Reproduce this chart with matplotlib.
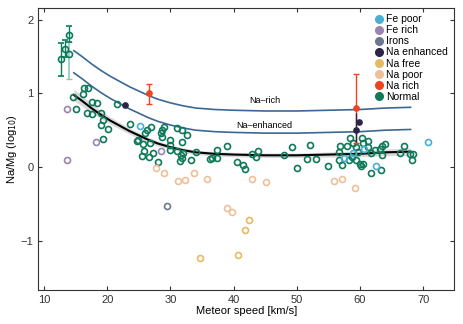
import numpy as np
import matplotlib
matplotlib.use('Agg')
from matplotlib import pyplot as plt

plt.rcParams['font.family'] = ['Liberation Sans', 'DejaVu Sans']

# --- data ---
normal_v = [14.6, 16.3, 16.9, 16.1, 15.0, 17.5, 18.3, 16.8, 17.5, 19.0, 19.3, 19.0, 20.1, 19.3,
            21.5, 23.6, 24.8, 26.3, 26.9, 25.9, 24.7, 25.6, 26.7, 25.8, 25.5, 26.6, 27.3, 28.0,
            28.5, 28.7, 28.6, 29.0, 29.9, 30.0, 31.1, 31.9, 32.6, 31.9, 31.0, 31.6, 32.0, 31.8,
            31.5, 29.9, 33.3, 34.1, 36.2, 37.3, 37.3, 36.5, 38.9, 40.6, 41.4, 41.8, 42.9, 43.9,
            43.5, 47.9, 49.2, 50.0, 51.6, 52.1, 53.0, 55.0, 56.6, 57.2, 58.4, 58.0, 58.9, 59.6,
            59.4, 60.3, 60.5, 61.2, 61.2, 61.7, 62.3, 63.1, 63.4, 63.4, 58.7, 59.3, 60.0, 60.5,
            61.7, 58.2, 56.6, 56.8, 64.0, 66.9, 66.3, 67.9, 68.4, 68.2, 63.3, 60.1]
normal_y = [0.95, 1.08, 1.08, 0.99, 0.79, 0.89, 0.87, 0.73, 0.72, 0.74, 0.64, 0.57, 0.52, 0.38,
            0.86, 0.59, 0.37, 0.50, 0.55, 0.46, 0.35, 0.31, 0.33, 0.22, 0.15, 0.14, 0.19, 0.07,
            0.46, 0.50, 0.41, 0.55, 0.37, 0.30, 0.53, 0.50, 0.44, 0.34, 0.22, 0.16, 0.19, 0.12,
            0.08, 0.23, 0.10, 0.21, 0.11, 0.12, 0.23, 0.12, 0.29, 0.07, 0.03, -0.03, 0.18, 0.22,
            0.14, 0.16, 0.27, -0.01, 0.11, 0.30, 0.11, 0.01, 0.20, 0.03, 0.39, 0.28, 0.33, 0.20,
            0.27, 0.39, 0.33, 0.36, 0.27, 0.19, 0.23, 0.24, 0.16, 0.28, 0.14, 0.10, 0.04, 0.04,
            -0.08, 0.10, 0.10, 0.28, 0.32, 0.28, 0.19, 0.18, 0.18, 0.10, -0.04, 0.01]

# normal meteors with error bars (value, lower, upper)
err_v = [12.7, 13.3, 14.0]
err_y = [1.47, 1.60, 1.80]
err_lo = [1.24, 1.50, 1.70]
err_hi = [1.69, 1.73, 1.92]
err2_v = [14.0]
err2_y = [1.54]
err2_lo = [1.20]
err2_hi = [1.70]

fe_poor_v = [25.2, 57.4, 58.9, 60.6, 62.6, 70.7]
fe_poor_y = [0.56, 0.12, 0.19, 0.24, 0.02, 0.34]
fe_rich_v = [13.7, 13.7, 18.2, 28.5]
fe_rich_y = [0.79, 0.10, 0.34, 0.22]
irons_v = [29.4]
irons_y = [-0.53]
na_free_v = [34.7, 40.7, 41.8, 42.5]
na_free_y = [-1.24, -1.19, -0.86, -0.72]
na_poor_v = [27.7, 29.0, 31.2, 32.3, 33.7, 35.8, 38.9, 39.7, 42.9, 45.1, 55.8, 57.2, 59.2]
na_poor_y = [-0.01, -0.08, -0.19, -0.18, -0.08, -0.16, -0.55, -0.61, -0.16, -0.20, -0.19, -0.16, -0.28]
na_enh_v = [22.8, 59.9, 59.4]
na_enh_y = [0.85, 0.61, 0.50]
na_enh_lo = [0.85, 0.61, 0.34]
na_enh_hi = [0.85, 0.61, 0.73]
na_rich_v = [26.6, 59.4]
na_rich_y = [1.00, 0.80]
na_rich_lo = [0.86, 0.33]
na_rich_hi = [1.13, 1.27]

fit_v = [14.7, 16, 17.5, 19, 20.5, 22, 23.5, 25, 26.5, 28, 30, 32, 34, 37, 40, 45, 50, 55, 60, 64, 68]
fit_y = [0.98, 0.90, 0.80, 0.71, 0.63, 0.56, 0.49, 0.43, 0.37, 0.32, 0.27, 0.23, 0.20, 0.18,
         0.17, 0.16, 0.16, 0.17, 0.18, 0.20, 0.21]
fit_w = [0.08, 0.07, 0.06, 0.055, 0.05, 0.045, 0.04, 0.04, 0.035, 0.035, 0.03, 0.03, 0.03, 0.03,
         0.03, 0.03, 0.03, 0.035, 0.04, 0.045, 0.05]

colors = {
    'Fe poor': '#48b0d4',
    'Fe rich': '#9a85b0',
    'Irons': '#6c7890',
    'Na enhanced': '#2c2548',
    'Na free': '#e4bb62',
    'Na poor': '#efbf98',
    'Na rich': '#f0431f',
    'Normal': '#0f7a5a',
}
line_col = '#3b6896'

fig = plt.figure(figsize=(4.63, 3.24), dpi=100)
ax = fig.add_axes([0.083, 0.105, 0.898, 0.870])

fv = np.array(fit_v)
fy = np.array(fit_y)
fw = np.array(fit_w)
ax.fill_between(fv, fy - fw, fy + fw, color='#d9d9d9', lw=0, zorder=1)
ax.plot(fv, fy, color='black', lw=1.5, zorder=2)
ax.plot(fv, fy + np.log10(2), color=line_col, lw=1.2, zorder=2)
ax.plot(fv, fy + np.log10(4), color=line_col, lw=1.2, zorder=2)

ax.text(44.9, 0.91, 'Na\u2013rich', fontsize=6.5, ha='center', va='center')
ax.text(44.9, 0.57, 'Na\u2013enhanced', fontsize=6.5, ha='center', va='center')

ms = 4.3
mew = 1.2
open_kw = dict(ls='none', marker='o', ms=ms, mfc='none', mew=mew, zorder=3)

ax.plot(normal_v, normal_y, mec=colors['Normal'], **open_kw)
ax.plot(fe_poor_v, fe_poor_y, mec=colors['Fe poor'], **open_kw)
ax.plot(fe_rich_v, fe_rich_y, mec=colors['Fe rich'], **open_kw)
ax.plot(irons_v, irons_y, mec=colors['Irons'], **open_kw)
ax.plot(na_free_v, na_free_y, mec=colors['Na free'], **open_kw)
ax.plot(na_poor_v, na_poor_y, mec=colors['Na poor'], **open_kw)

ax.errorbar(err2_v, err2_y, yerr=[[err2_y[0] - err2_lo[0]], [err2_hi[0] - err2_y[0]]],
            fmt='none', ecolor='#8cc9b4', elinewidth=1.2, capsize=2, zorder=3)
ax.plot(err2_v, err2_y, mec=colors['Normal'], **open_kw)
ey = np.array(err_y)
ax.errorbar(err_v, err_y, yerr=[ey - np.array(err_lo), np.array(err_hi) - ey],
            fmt='o', ms=ms, mfc='none', mec=colors['Normal'], mew=mew,
            ecolor=colors['Normal'], elinewidth=1.0, capsize=2, zorder=4)

ry = np.array(na_rich_y)
ax.errorbar(na_rich_v, na_rich_y, yerr=[ry - np.array(na_rich_lo), np.array(na_rich_hi) - ry],
            fmt='o', ms=3.8, color=colors['Na rich'], elinewidth=1.0, capsize=2, zorder=4)
ny = np.array(na_enh_y)
ax.errorbar(na_enh_v, na_enh_y, yerr=[ny - np.array(na_enh_lo), np.array(na_enh_hi) - ny],
            fmt='o', ms=3.8, color=colors['Na enhanced'], elinewidth=1.0, capsize=0, zorder=5)

handles = []
for name, c in colors.items():
    h, = ax.plot([], [], ls='none', marker='o', ms=5.5, color=c, label=name)
    handles.append(h)
ax.legend(handles=handles, loc='upper right', frameon=False, fontsize=7.5,
          handletextpad=0.1, labelspacing=0.1, borderaxespad=0.2, handlelength=1.2)

ax.set_xlim(9.1, 74.9)
ax.set_ylim(-1.67, 2.16)
ax.set_xticks(np.arange(10, 71, 10))
ax.set_yticks([-1, 0, 1, 2])
ax.tick_params(direction='in', top=True, right=True, length=3, width=0.8,
               labelsize=8, labelcolor='#333333', color='#333333')
for s in ax.spines.values():
    s.set_color('#333333')
    s.set_linewidth(0.8)
ax.set_xlabel('Meteor speed [km/s]', fontsize=8, labelpad=1)
ax.set_ylabel('Na/Mg (log$_{10}$)', fontsize=8, labelpad=1)

fig.savefig('out.png', dpi=100)
